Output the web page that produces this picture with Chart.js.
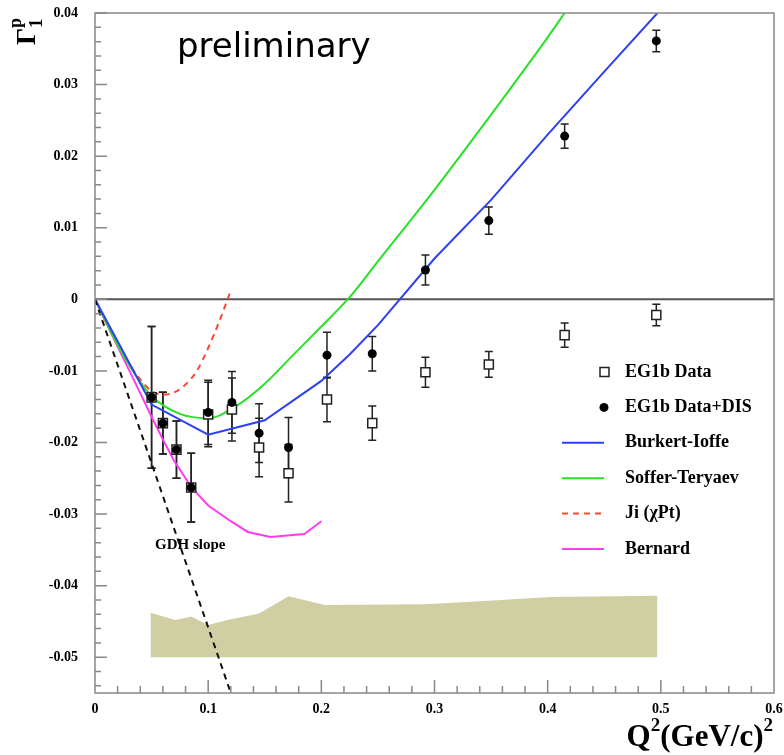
<!DOCTYPE html>
<html>
<head>
<meta charset="utf-8">
<title>Gamma1 proton - EG1b</title>
<script src="https://cdn.jsdelivr.net/npm/chart.js"></script>
<style>
  body { margin: 0; background: #fff; }
  canvas { display: block; }
</style>
</head>
<body>
<canvas id="g1Chart" width="784" height="755"></canvas>
<script>
// --- values ---
var q2Points = [0.050, 0.060, 0.072, 0.085, 0.100, 0.121, 0.145, 0.171, 0.205, 0.245, 0.292, 0.348, 0.415, 0.496];
var eg1bData = [-0.0137, -0.0173, -0.0210, -0.0263, -0.0161, -0.0154, -0.0207, -0.0243, -0.0140, -0.0173, -0.0102, -0.0091, -0.0050, -0.0022];
var eg1bErr  = [0.0099, 0.0043, 0.0040, 0.0048, 0.0045, 0.0044, 0.0041, 0.0040, 0.0031, 0.0024, 0.0021, 0.0018, 0.0017, 0.0015];
var eg1bDis  = [-0.0137, -0.0173, -0.0210, -0.0263, -0.0158, -0.0144, -0.0187, -0.0207, -0.0078, -0.0076, 0.0041, 0.0110, 0.0228, 0.0361];
var eg1bDisErr = [0.0099, 0.0043, 0.0040, 0.0048, 0.0045, 0.0043, 0.0041, 0.0042, 0.0032, 0.0024, 0.0021, 0.0019, 0.0017, 0.0015];

var burkertX = [0, 0.05, 0.10, 0.15, 0.20, 0.225, 0.25, 0.30, 0.35, 0.40, 0.45, 0.497];
var burkertY = [0, -0.0147, -0.0189, -0.0169, -0.0114, -0.0077, -0.0036, 0.0057, 0.0139, 0.0230, 0.0318, 0.0400];

var sofferX = [0, 0.025, 0.05, 0.075, 0.10, 0.125, 0.15, 0.175, 0.20, 0.225, 0.25, 0.30, 0.35, 0.40, 0.415];
var sofferY = [0, -0.0078, -0.0135, -0.0160, -0.0166, -0.0149, -0.0118, -0.0078, -0.0038, 0.0003, 0.0053, 0.0153, 0.0258, 0.0366, 0.0400];

var jiX = [0, 0.02, 0.04, 0.05, 0.06, 0.07, 0.08, 0.09, 0.10, 0.11, 0.119];
var jiY = [0, -0.0064, -0.0112, -0.0128, -0.0133, -0.0130, -0.0119, -0.0100, -0.0068, -0.0030, 0.0008];

var bernardX = [0, 0.02, 0.04, 0.05, 0.06, 0.07, 0.085, 0.10, 0.12, 0.135, 0.155, 0.185, 0.20];
var bernardY = [0, -0.0066, -0.0131, -0.0164, -0.0196, -0.0226, -0.0262, -0.0288, -0.0310, -0.0325, -0.0332, -0.0328, -0.0310];

var gdhX = [0, 0.12];
var gdhY = [0, -0.0550];

var sysX   = [0.049, 0.071, 0.085, 0.100, 0.117, 0.145, 0.171, 0.203, 0.291, 0.348, 0.402, 0.497];
var sysTop = [-0.0438, -0.0448, -0.0443, -0.0455, -0.0448, -0.0439, -0.0415, -0.0427, -0.0426, -0.0421, -0.0416, -0.0414];
var sysBase = -0.05;

var xTicks = [0, 0.1, 0.2, 0.3, 0.4, 0.5, 0.6];
var yTicks = [0.04, 0.03, 0.02, 0.01, 0, -0.01, -0.02, -0.03, -0.04, -0.05];

var legendOrder = ['EG1b Data', 'EG1b Data+DIS', 'Burkert-Ioffe', 'Soffer-Teryaev', 'Ji (\u03c7Pt)', 'Bernard'];

var serif = '"Liberation Serif", "Times New Roman", serif';

function pts(xs, ys) {
    return xs.map(function(x, i) { return { x: x, y: ys[i] }; });
}

function curve(label, xs, ys, color, dash, order) {
    return {
        label: label,
        data: pts(xs, ys),
        showLine: true,
        borderColor: color,
        borderWidth: 2,
        borderDash: dash || [],
        pointRadius: 0,
        fill: false,
        order: order
    };
}

// error bars, frame, inward ticks, legend and texts
var decorPlugin = {
    id: 'decor',
    beforeDatasetsDraw: function(chart) {
        var ctx = chart.ctx, xs = chart.scales.x, ys = chart.scales.y, a = chart.chartArea;
        ctx.save();
        ctx.beginPath();
        ctx.rect(a.left, a.top, a.right - a.left, a.bottom - a.top);
        ctx.clip();
        // zero line
        ctx.strokeStyle = '#555';
        ctx.lineWidth = 2;
        ctx.beginPath();
        ctx.moveTo(a.left, ys.getPixelForValue(0));
        ctx.lineTo(a.right, ys.getPixelForValue(0));
        ctx.stroke();
        // error bars
        ctx.strokeStyle = '#222';
        ctx.lineWidth = 1.5;
        function bars(vals, errs) {
            q2Points.forEach(function(q, i) {
                var px = xs.getPixelForValue(q);
                var t = ys.getPixelForValue(vals[i] + errs[i]);
                var b = ys.getPixelForValue(vals[i] - errs[i]);
                ctx.beginPath();
                ctx.moveTo(px, t); ctx.lineTo(px, b);
                ctx.moveTo(px - 4, t); ctx.lineTo(px + 4, t);
                ctx.moveTo(px - 4, b); ctx.lineTo(px + 4, b);
                ctx.stroke();
            });
        }
        bars(eg1bData, eg1bErr);
        bars(eg1bDis, eg1bDisErr);
        ctx.restore();
    },
    afterDraw: function(chart) {
        var ctx = chart.ctx, xs = chart.scales.x, ys = chart.scales.y, a = chart.chartArea;
        ctx.save();
        // frame
        ctx.strokeStyle = '#888';
        ctx.lineWidth = 1.5;
        ctx.strokeRect(a.left, a.top, a.right - a.left, a.bottom - a.top);
        // inward ticks
        ctx.beginPath();
        for (var k = -27; k <= 20; k++) {
            var py = ys.getPixelForValue(k * 0.002);
            var len = (k % 5 === 0) ? 12 : 6;
            ctx.moveTo(a.left, py); ctx.lineTo(a.left + len, py);
        }
        for (var j = 1; j < 30; j++) {
            var px = xs.getPixelForValue(j * 0.02);
            var l2 = (j % 5 === 0) ? 13 : 7;
            ctx.moveTo(px, a.bottom); ctx.lineTo(px, a.bottom - l2);
        }
        ctx.stroke();

        // texts
        ctx.fillStyle = '#000';
        ctx.textBaseline = 'alphabetic';
        ctx.textAlign = 'left';
        ctx.font = '34px "DejaVu Sans", sans-serif';
        ctx.fillText('preliminary', 177, 57);

        ctx.font = 'bold 15px ' + serif;
        ctx.fillText('GDH slope', 155, 549);

        // x axis title  Q^2(GeV/c)^2
        var big = 'bold 31px ' + serif, small = 'bold 19px ' + serif;
        ctx.font = big;
        var wQ = ctx.measureText('Q').width, wMid = ctx.measureText('(GeV/c)').width;
        ctx.font = small;
        var w2 = ctx.measureText('2').width;
        var x0 = 773 - (wQ + w2 + wMid + w2);
        ctx.font = big; ctx.fillText('Q', x0, 746);
        ctx.font = small; ctx.fillText('2', x0 + wQ, 731);
        ctx.font = big; ctx.fillText('(GeV/c)', x0 + wQ + w2, 746);
        ctx.font = small; ctx.fillText('2', x0 + wQ + w2 + wMid, 731);

        // y axis title  Gamma_1^p, rotated
        ctx.save();
        ctx.translate(35, 45);
        ctx.rotate(-Math.PI / 2);
        ctx.font = 'bold 27px ' + serif;
        ctx.fillText('\u0393', 0, 0);
        ctx.font = 'bold 19px ' + serif;
        ctx.fillText('1', 17, 7);
        ctx.font = 'bold 18px ' + serif;
        ctx.fillText('p', 17, -14);
        ctx.restore();

        // legend
        ctx.font = 'bold 18px ' + serif;
        ctx.textBaseline = 'middle';
        legendOrder.forEach(function(name, i) {
            var ds = chart.data.datasets.find(function(d) { return d.label === name; });
            var y = 372 + i * 35.4;
            if (ds.showLine) {
                ctx.strokeStyle = ds.borderColor;
                ctx.lineWidth = 2;
                ctx.setLineDash(ds.borderDash || []);
                ctx.beginPath();
                ctx.moveTo(562, y); ctx.lineTo(604, y);
                ctx.stroke();
                ctx.setLineDash([]);
            } else if (ds.pointStyle === 'rect') {
                ctx.fillStyle = '#fff';
                ctx.strokeStyle = '#222';
                ctx.lineWidth = 1.5;
                ctx.fillRect(600, y - 4.5, 9, 9);
                ctx.strokeRect(600, y - 4.5, 9, 9);
            } else {
                ctx.fillStyle = '#000';
                ctx.beginPath();
                ctx.arc(604, y, 4.5, 0, Math.PI * 2);
                ctx.fill();
            }
            ctx.fillStyle = '#000';
            ctx.fillText(name, 625, y);
        });
        ctx.restore();
    }
};

var datasets = [
    {
        label: 'EG1b Data+DIS',
        data: pts(q2Points, eg1bDis),
        pointStyle: 'circle',
        pointRadius: 4.5,
        backgroundColor: '#000',
        borderColor: '#000',
        borderWidth: 0,
        showLine: false,
        order: 1
    },
    {
        label: 'EG1b Data',
        data: pts(q2Points, eg1bData),
        pointStyle: 'rect',
        pointRadius: 6.4,
        backgroundColor: '#fff',
        borderColor: '#222',
        borderWidth: 1.5,
        showLine: false,
        order: 2
    },
    curve('Burkert-Ioffe', burkertX, burkertY, 'rgb(45,65,240)', null, 4),
    curve('Soffer-Teryaev', sofferX, sofferY, 'rgb(40,225,40)', null, 4),
    curve('Ji (\u03c7Pt)', jiX, jiY, 'rgb(255,70,50)', [6, 5], 4),
    curve('Bernard', bernardX, bernardY, 'rgb(255,60,240)', null, 4),
    curve('GDH', gdhX, gdhY, '#111', [6, 5], 3),
    {
        label: 'Systematic',
        data: pts(sysX, sysTop),
        showLine: true,
        borderWidth: 0,
        borderColor: 'rgba(0,0,0,0)',
        backgroundColor: 'rgb(208,207,164)',
        pointRadius: 0,
        fill: { value: sysBase },
        order: 10
    }
];

datasets[3].cubicInterpolationMode = 'monotone';
datasets[4].cubicInterpolationMode = 'monotone';

var tickFont = { family: serif, size: 14, weight: 'bold' };

new Chart(document.getElementById('g1Chart'), {
    type: 'scatter',
    data: { datasets: datasets },
    options: {
        responsive: false,
        animation: false,
        layout: { padding: { top: 13, right: 10, left: 0, bottom: 0 } },
        plugins: {
            legend: { display: false },
            tooltip: { enabled: false },
            filler: { propagate: false }
        },
        scales: {
            x: {
                type: 'linear',
                min: 0,
                max: 0.6,
                grid: { display: false, drawTicks: false },
                border: { display: false },
                ticks: {
                    padding: 8,
                    maxRotation: 0,
                    color: '#000',
                    font: tickFont,
                    callback: function(v) { return v === 0 ? '0' : v.toFixed(1); }
                },
                afterBuildTicks: function(s) { s.ticks = xTicks.map(function(v) { return { value: v }; }); },
                afterFit: function(s) { s.height = 62; s.paddingLeft = 0; s.paddingRight = 0; }
            },
            y: {
                type: 'linear',
                min: -0.055,
                max: 0.04,
                grid: { display: false, drawTicks: false },
                border: { display: false },
                ticks: {
                    padding: 17,
                    color: '#000',
                    font: tickFont,
                    callback: function(v) { return Math.abs(v) < 1e-9 ? '0' : v.toFixed(2); }
                },
                afterBuildTicks: function(s) { s.ticks = yTicks.map(function(v) { return { value: v }; }); },
                afterFit: function(s) { s.width = 95; s.paddingTop = 0; s.paddingBottom = 0; }
            }
        }
    },
    plugins: [decorPlugin]
});
</script>
</body>
</html>
